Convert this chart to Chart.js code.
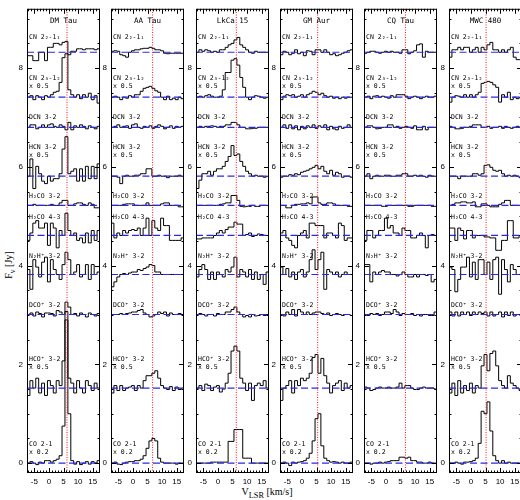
<!DOCTYPE html>
<html>
<head>
<meta charset="utf-8">
<script src="https://cdn.jsdelivr.net/npm/chart.js@4.4.0/dist/chart.umd.min.js"></script>
<style>
  body { margin: 0; background: #fff; width: 520px; height: 500px; overflow: hidden; position: relative; font-family: "Liberation Serif", serif; }
  canvas { position: absolute; top: 0; }
  #ylab { position: absolute; left: -16px; top: 258px; width: 52px; text-align: center; transform: rotate(-90deg); font-size: 10px; }
  #xlab { position: absolute; left: 217px; top: 486px; width: 100px; text-align: center; font-size: 10px; }
</style>
</head>
<body>
<div id="ylab">F<sub>ν</sub> [Jy]</div>
<div id="xlab">V<sub>LSR</sub> [km/s]</div>
<script>
// --- DATA ---
const SOURCES = ['DM Tau', 'AA Tau', 'LkCa 15', 'GM Aur', 'CQ Tau', 'MWC 480'];
const VLSR = [6.2, 6.75, 6.3, 5.4, 6.7, 5.2];
// channel left edges (km/s), 1 km/s channels
const EDGES = [-7.5, -6.5, -5.5, -4.5, -3.5, -2.5, -1.5, -0.5, 0.5, 1.5, 2.5, 3.5, 4.5, 5.5, 6.5, 7.5, 8.5, 9.5, 10.5, 11.5, 12.5, 13.5, 14.5, 15.5, 16.5];
const V_END = 17.5;
const LINE_NAMES = ['CN 2₂-1₁', 'CN 2₃-1₂', 'DCN 3-2', 'HCN 3-2', 'H₂CO 3-2', 'H₂CO 4-3', 'N₂H⁺ 3-2', 'DCO⁺ 3-2', 'HCO⁺ 3-2', 'CO 2-1'];
const SCALE_NOTES = ['', 'x 0.5', '', 'x 0.5', '', '', '', '', 'x 0.5', 'x 0.2'];
const BASES = [8.32, 7.41, 6.80, 5.81, 5.22, 4.61, 3.82, 3.01, 1.52, 0.0];

// flux above each baseline [Jy], rows in LINE_NAMES order
const DM_TAU = [
  [-0.07,-0.07,-0.17,-0.17,0.0,0.0,-0.17,0.1,0.1,0.18,0.18,0.15,0.2,0.22,-0.05,0.02,0.02,0.07,0.07,0.05,0.07,0.07,0.07,0.05,0.07],
  [0.0,0.03,-0.05,0.03,0.0,-0.05,0.03,0.0,0.05,0.1,0.12,0.3,0.8,0.88,0.15,0.05,0.0,0.05,-0.03,0.05,0.0,0.08,-0.05,0.03,-0.12],
  [0.0,0.05,0.05,-0.03,0.0,0.05,0.0,0.05,0.07,0.02,0.0,0.05,0.02,-0.05,0.1,-0.05,0.03,0.0,0.05,0.02,-0.03,0.03,0.0,-0.03,0.02],
  [0.0,0.35,-0.25,0.2,0.05,-0.1,-0.15,0.0,-0.1,-0.05,-0.05,0.05,0.55,0.8,0.05,0.1,0.15,-0.1,0.15,-0.1,0.2,-0.05,0.2,-0.05,0.25],
  [0.0,0.0,0.02,0.0,0.0,0.0,0.0,0.0,0.02,0.0,0.0,0.05,0.1,0.1,0.0,0.0,0.03,0.05,0.05,0.02,0.0,0.05,0.02,-0.05,-0.05],
  [-0.1,0.05,0.25,0.3,0.15,0.15,0.25,-0.2,0.25,0.15,-0.25,0.1,0.0,0.45,0.1,0.0,0.05,-0.1,-0.05,-0.15,0.05,-0.15,0.1,-0.1,0.1],
  [0.1,-0.3,0.3,0.15,-0.05,0.25,0.35,-0.15,0.3,0.1,0.0,-0.1,0.2,0.45,0.3,0.0,0.05,0.2,-0.05,0.0,0.2,-0.1,0.2,0.0,0.05],
  [0.0,0.03,-0.03,0.05,0.02,-0.05,0.03,0.03,0.02,-0.03,0.08,0.05,0.0,0.25,0.15,0.0,0.02,-0.03,0.03,0.0,-0.05,0.03,0.0,-0.03,0.02],
  [-0.15,0.15,0.0,0.2,-0.1,0.1,-0.15,0.15,0.05,-0.1,0.15,0.05,0.55,1.55,0.2,0.1,-0.1,0.15,0.0,-0.1,0.15,0.05,-0.05,0.1,0.0],
  [0.0,0.03,0.0,-0.03,0.02,0.0,0.05,0.05,0.02,0.05,0.08,0.15,0.75,2.9,1.0,0.05,-0.02,0.03,-0.03,0.0,0.03,-0.02,0.03,0.0,0.05]
];
const AA_TAU = [
  [0.02,0.03,0.02,-0.05,-0.07,-0.1,0.0,0.03,0.05,0.05,0.07,0.08,0.08,0.1,0.08,0.05,0.05,0.03,-0.02,-0.03,-0.02,-0.02,-0.02,-0.02,-0.02],
  [0.0,0.02,0.0,-0.05,0.0,-0.02,0.03,0.0,0.05,0.05,0.12,0.18,0.2,0.22,0.18,0.13,0.1,0.0,-0.05,0.02,-0.05,-0.02,-0.05,0.0,-0.03],
  [0.0,0.02,0.05,0.0,0.02,0.03,-0.02,0.05,0.07,0.0,-0.02,0.02,0.0,0.03,-0.02,0.02,0.05,0.02,-0.03,0.0,0.03,-0.02,0.02,0.0,0.02],
  [0.0,0.0,-0.02,-0.15,0.0,0.02,0.0,0.0,0.02,0.02,0.05,0.05,0.15,0.15,0.0,0.0,0.02,0.0,0.0,-0.03,0.0,0.0,0.0,0.02,0.0],
  [0.0,0.0,0.0,0.0,0.02,0.03,0.03,0.03,0.0,0.0,0.0,0.0,0.05,0.0,0.0,0.0,0.0,0.03,0.05,0.05,0.0,0.0,0.0,-0.03,-0.03],
  [0.25,-0.05,0.05,0.0,0.1,0.05,0.1,0.12,0.1,0.15,0.0,0.15,0.35,0.0,0.3,0.15,0.1,0.35,0.2,0.2,-0.1,-0.1,-0.1,-0.1,-0.05],
  [-0.25,-0.15,-0.05,0.0,0.02,0.0,0.03,0.05,0.05,0.1,0.08,0.12,0.15,0.2,0.18,0.05,0.05,0.0,0.0,0.0,0.0,0.0,0.0,0.0,0.0],
  [0.0,0.0,0.0,0.02,0.0,0.02,0.03,0.05,0.05,0.08,0.1,0.03,0.0,-0.05,-0.03,0.0,0.05,0.02,0.05,-0.03,0.03,0.0,0.0,0.02,0.0],
  [-0.1,0.05,-0.05,0.05,-0.05,0.0,0.02,0.05,-0.05,0.05,0.0,0.15,0.25,0.25,0.3,0.35,0.2,0.05,0.0,-0.03,0.03,-0.05,0.02,-0.03,0.0],
  [0.0,0.02,-0.02,-0.03,0.0,0.02,0.03,0.03,0.05,0.05,0.08,0.15,0.3,0.45,0.5,0.45,0.1,0.02,0.0,0.0,0.0,0.0,-0.02,0.0,0.0]
];
const LKCA_15 = [
  [0.0,0.05,0.02,0.05,0.03,0.0,0.02,0.0,0.05,0.05,0.1,0.15,0.18,0.25,0.3,0.15,0.1,0.05,0.0,-0.02,0.02,0.0,0.0,0.0,0.0],
  [0.0,0.02,0.0,0.03,0.05,0.02,0.0,0.0,0.02,0.15,0.5,0.5,0.75,0.78,0.65,0.4,0.2,0.0,-0.05,0.0,0.03,0.02,0.0,-0.02,0.0],
  [0.0,0.02,0.0,0.02,0.02,0.03,0.02,0.0,0.02,0.02,0.05,0.05,0.1,0.1,0.05,0.0,0.0,-0.03,-0.03,-0.02,-0.02,0.0,0.0,0.0,0.0],
  [-0.25,-0.08,0.05,0.05,0.1,0.02,0.1,0.15,0.15,0.2,0.3,0.4,0.62,0.42,0.45,0.3,0.2,0.1,0.05,0.0,0.02,0.0,0.0,-0.02,0.0],
  [0.0,0.0,0.0,0.0,0.0,0.0,0.0,0.0,0.02,0.03,0.05,0.05,0.2,0.2,0.1,-0.02,-0.03,-0.02,-0.02,0.0,-0.02,-0.02,0.0,0.0,0.0],
  [-0.07,-0.07,-0.05,-0.05,-0.05,-0.05,0.0,0.05,0.1,0.05,0.12,0.17,0.17,0.27,0.23,0.23,0.0,0.02,0.05,-0.02,0.0,0.03,0.02,0.0,0.0],
  [-0.05,0.1,0.2,0.1,-0.1,0.05,-0.1,0.05,0.0,-0.05,0.1,0.05,0.15,0.35,-0.05,0.1,0.05,-0.05,0.1,-0.1,0.05,-0.1,0.0,-0.2,0.05],
  [0.0,0.02,0.0,-0.03,0.0,0.0,-0.03,0.02,0.0,0.0,0.05,0.05,0.1,0.15,0.05,0.0,-0.05,-0.02,-0.05,0.0,-0.03,-0.02,0.0,-0.02,0.0],
  [0.0,0.05,-0.05,0.08,0.05,-0.05,0.02,0.05,-0.08,-0.02,0.1,0.3,0.75,0.85,0.75,0.2,0.1,-0.05,0.1,-0.25,0.05,0.1,0.05,0.15,0.0],
  [0.0,0.0,0.0,0.0,0.0,0.02,0.02,0.02,0.02,0.02,0.02,0.44,0.44,0.68,0.68,0.68,0.1,0.1,0.1,0.0,0.0,0.0,0.0,0.0,0.0]
];
const GM_AUR = [
  [-0.05,0.02,0.0,-0.05,-0.02,0.05,-0.03,0.0,-0.07,0.03,0.02,-0.05,0.05,0.05,0.0,0.05,0.0,-0.05,-0.03,-0.07,-0.05,-0.02,0.0,0.03,0.05],
  [-0.05,0.02,0.05,0.03,0.05,0.0,0.02,0.05,0.0,0.05,0.08,0.12,0.1,0.05,0.08,0.03,0.0,0.02,-0.02,0.0,-0.03,0.0,-0.02,0.0,0.0],
  [0.0,0.05,-0.02,0.05,-0.03,0.03,-0.05,0.02,-0.03,0.03,0.0,0.05,-0.02,0.03,0.0,0.05,-0.05,0.02,-0.03,-0.05,0.02,-0.02,0.0,0.05,0.0],
  [-0.02,0.0,0.0,0.03,0.02,0.05,0.03,0.08,0.1,0.12,0.15,0.18,0.22,0.15,0.2,0.1,0.05,0.12,0.02,0.08,0.05,-0.02,0.0,0.0,-0.02],
  [0.0,0.0,-0.05,-0.05,0.0,0.02,0.02,0.03,0.03,0.05,0.03,0.17,0.17,0.05,0.02,0.02,0.05,0.05,0.03,0.0,0.0,0.0,0.0,-0.02,-0.02],
  [0.05,0.1,-0.05,-0.1,-0.2,-0.25,0.0,0.05,0.1,-0.05,0.25,0.25,0.2,0.2,0.2,-0.05,0.05,0.05,0.0,-0.05,0.25,0.2,-0.1,-0.05,-0.05],
  [0.15,0.0,0.12,-0.05,0.05,-0.1,0.05,0.1,-0.05,0.05,0.3,0.5,0.1,0.3,0.45,-0.3,0.1,0.05,0.0,0.05,-0.05,0.0,0.05,0.0,0.0],
  [0.0,-0.03,0.05,0.0,0.1,-0.03,0.1,0.05,0.0,0.05,0.0,0.03,0.05,0.05,0.02,0.0,0.03,-0.02,0.0,0.02,0.0,-0.02,0.0,0.0,-0.02],
  [-0.25,0.0,0.05,0.15,-0.1,0.15,0.05,0.2,0.15,0.2,0.3,0.62,0.68,0.3,0.6,0.25,0.1,-0.1,0.05,0.1,0.15,-0.05,0.1,0.0,0.05],
  [0.0,0.02,0.0,-0.05,0.02,0.0,0.02,0.03,0.05,0.1,0.2,0.45,0.9,1.0,0.35,0.1,0.05,0.02,0.03,0.02,0.0,0.02,0.0,0.0,0.02]
];
const CQ_TAU = [
  [-0.02,0.0,0.02,0.02,0.0,-0.02,0.0,0.02,0.0,0.02,0.0,0.0,-0.02,0.05,0.05,-0.03,0.0,0.03,0.15,0.17,-0.1,0.02,0.0,0.0,0.0],
  [0.0,0.02,-0.03,0.02,0.03,0.0,0.02,0.0,-0.02,0.03,0.0,0.05,0.05,0.05,0.02,-0.03,0.0,0.02,0.0,-0.03,0.0,0.02,0.0,0.0,0.02],
  [0.0,0.03,0.03,0.0,-0.03,-0.02,0.0,0.0,0.05,0.05,0.0,0.02,-0.02,0.0,0.02,0.0,-0.02,0.03,-0.05,-0.05,0.02,-0.05,0.0,0.0,0.0],
  [0.0,0.05,-0.05,0.0,0.02,0.0,0.0,0.02,0.02,0.0,0.0,0.02,0.02,0.05,0.05,0.0,0.0,0.02,0.0,0.02,0.0,-0.02,0.02,0.0,0.0],
  [0.0,0.0,0.0,0.0,0.0,0.0,-0.02,-0.02,0.0,0.0,0.0,0.0,0.0,0.0,0.0,-0.02,-0.02,0.0,0.0,0.0,0.0,0.0,0.0,-0.02,-0.02],
  [-0.1,0.1,0.1,-0.05,0.0,0.1,0.1,0.35,0.15,0.2,0.05,0.05,0.0,0.15,0.1,0.1,-0.05,-0.05,0.0,0.05,0.0,-0.25,0.0,0.02,0.0],
  [0.2,0.2,-0.15,0.05,0.0,0.05,0.08,0.05,0.05,0.0,0.0,-0.03,0.0,0.05,0.0,-0.05,-0.05,0.0,-0.05,0.0,0.0,-0.02,0.0,-0.15,-0.1],
  [0.0,-0.02,0.02,0.0,0.02,-0.02,0.0,0.05,0.05,0.02,0.1,0.05,-0.02,0.02,0.0,0.0,0.02,-0.02,0.0,-0.03,0.0,0.0,-0.02,-0.02,0.05],
  [0.02,0.0,-0.05,-0.03,0.0,0.02,0.0,0.0,0.02,0.0,0.0,0.02,0.1,0.0,0.05,0.05,0.0,-0.03,-0.03,0.0,0.02,0.0,0.0,0.0,-0.02],
  [0.0,0.0,-0.02,0.0,0.0,0.02,0.0,0.02,0.03,0.05,0.05,0.05,0.12,0.12,0.1,0.12,0.05,0.05,0.02,0.02,0.0,0.0,0.02,0.0,0.0]
];
const MWC_480 = [
  [-0.1,0.05,0.05,0.1,0.05,0.1,0.1,0.0,0.05,0.1,0.0,0.1,0.05,0.15,0.2,0.05,0.05,0.0,0.05,0.0,0.05,0.1,-0.1,-0.15,-0.15],
  [-0.1,0.0,0.03,0.02,0.0,0.05,0.0,0.05,0.0,0.05,0.1,0.28,0.3,0.32,0.3,0.25,0.2,-0.1,0.05,0.0,0.1,-0.05,0.0,-0.03,0.0],
  [0.02,0.0,-0.03,-0.03,-0.02,0.0,0.0,0.02,0.05,0.05,0.05,0.0,0.0,0.02,-0.02,0.0,0.0,0.02,-0.02,0.02,0.0,-0.02,0.0,0.02,0.0],
  [0.0,0.0,0.0,-0.05,0.0,0.0,0.0,0.0,0.05,0.05,0.02,0.05,0.22,0.23,0.18,0.12,0.1,0.12,0.05,0.0,0.02,0.0,0.02,0.0,-0.03],
  [0.0,0.02,0.05,0.05,0.07,0.07,0.05,0.05,0.07,-0.03,-0.03,0.03,0.03,0.0,-0.03,-0.03,-0.03,0.02,0.05,0.1,0.1,0.0,0.0,0.0,0.0],
  [0.15,0.15,-0.1,0.15,0.1,-0.07,0.1,0.1,-0.05,0.0,0.0,0.0,-0.03,-0.03,-0.05,-0.05,-0.3,-0.3,-0.1,-0.1,0.3,0.3,-0.05,-0.05,0.0],
  [0.15,0.1,-0.35,-0.1,0.15,0.15,0.35,-0.05,0.25,-0.1,0.3,0.3,0.0,0.25,-0.1,0.3,0.35,-0.4,0.3,0.1,-0.15,0.2,0.1,0.0,0.0],
  [0.05,-0.03,0.05,-0.03,0.05,0.0,0.05,-0.02,0.05,0.0,0.05,0.02,0.05,-0.03,0.05,-0.03,0.0,0.05,-0.05,0.05,-0.02,0.05,-0.03,0.0,0.0],
  [-0.1,0.1,-0.15,0.15,-0.1,0.05,-0.05,0.1,-0.1,0.05,0.0,0.45,0.68,0.35,0.7,0.75,0.45,0.15,0.05,0.0,0.25,0.1,0.05,0.0,-0.05],
  [0.0,0.0,0.02,0.0,-0.02,0.02,0.02,0.03,0.05,0.1,0.4,1.05,1.0,1.24,0.65,0.15,0.05,0.0,0.05,0.0,0.02,0.0,0.0,0.0,0.0]
];
const SPECTRA = [DM_TAU, AA_TAU, LKCA_15, GM_AUR, CQ_TAU, MWC_480];

// --- LAYOUT ---
const CANVAS_LEFT = [7, 91, 176, 260, 344, 429];
const CANVAS_W = 96, CANVAS_H = 500;
const Y_AXIS_W = 20, X_AXIS_H = 27, PAD_TOP = 7, PAD_RIGHT = 3;
const LABEL_DY = [0.30, 0.39, 0.20, 0.58, 0.18, 0.37, 0.36, 0.19, 0.58, 0.38];
const LABEL_FONT = '6.5px "DejaVu Sans Mono"';

const framePlugin = {
  id: 'frame',
  afterDraw(chart, args, opts) {
    const { ctx, chartArea: a, scales: { x, y } } = chart;
    ctx.save();
    ctx.strokeStyle = '#000';
    ctx.lineWidth = 1;
    ctx.strokeRect(a.left + 0.5, a.top + 0.5, a.right - a.left - 1, a.bottom - a.top - 1);
    ctx.beginPath();
    // x ticks, top and bottom, inward
    for (let v = -7; v <= 17; v++) {
      const px = Math.round(x.getPixelForValue(v)) + 0.5;
      const len = v % 5 === 0 ? 5 : 2.5;
      ctx.moveTo(px, a.bottom); ctx.lineTo(px, a.bottom - len);
      ctx.moveTo(px, a.top); ctx.lineTo(px, a.top + len);
    }
    // y ticks, left and right, inward
    for (let k = 0; k <= 18; k++) {
      const py = Math.round(y.getPixelForValue(k * 0.5)) + 0.5;
      const len = k % 4 === 0 ? 5 : 2.5;
      ctx.moveTo(a.left, py); ctx.lineTo(a.left + len, py);
      ctx.moveTo(a.right, py); ctx.lineTo(a.right - len, py);
    }
    ctx.stroke();

    // line labels
    ctx.fillStyle = '#000';
    ctx.font = LABEL_FONT;
    ctx.textBaseline = 'middle';
    ctx.textAlign = 'left';
    LINE_NAMES.forEach((name, j) => {
      const yy = y.getPixelForValue(BASES[j] + LABEL_DY[j]);
      ctx.fillText(name, a.left + 2, yy);
      if (SCALE_NOTES[j]) ctx.fillText(SCALE_NOTES[j], a.left + 2, yy + 8);
    });

    // source name
    ctx.textAlign = 'center';
    ctx.font = '7.5px "DejaVu Sans Mono"';
    ctx.fillText(opts.title, x.getPixelForValue(5), y.getPixelForValue(8.96));
    ctx.restore();
  }
};

function makePanel(i) {
  const canvas = document.createElement('canvas');
  canvas.width = CANVAS_W;
  canvas.height = CANVAS_H;
  canvas.style.left = CANVAS_LEFT[i] + 'px';
  document.body.appendChild(canvas);

  const datasets = [];
  // systemic velocity
  datasets.push({
    data: [{ x: VLSR[i], y: -0.2 }, { x: VLSR[i], y: 9.2 }],
    borderColor: 'rgb(255,20,20)', borderWidth: 1, borderDash: [1, 1.5], pointRadius: 0
  });
  // baselines
  BASES.forEach(b => {
    datasets.push({
      data: [{ x: -7.5, y: b }, { x: V_END, y: b }],
      borderColor: 'rgb(40,40,235)', borderWidth: 1.2, borderDash: [7, 3.5], pointRadius: 0
    });
  });
  // spectra
  SPECTRA[i].forEach((vals, j) => {
    const pts = EDGES.map((v, k) => ({ x: v, y: BASES[j] + vals[k] }));
    pts.push({ x: V_END, y: BASES[j] + vals[vals.length - 1] });
    datasets.push({
      data: pts, stepped: 'before', borderColor: '#000', borderWidth: 1, pointRadius: 0
    });
  });

  new Chart(canvas.getContext('2d'), {
    type: 'line',
    data: { datasets },
    options: {
      responsive: false,
      animation: false,
      events: [],
      layout: { padding: { top: PAD_TOP, right: PAD_RIGHT, left: 0, bottom: 0 } },
      plugins: { legend: { display: false }, tooltip: { enabled: false }, frame: { title: SOURCES[i] } },
      scales: {
        x: {
          type: 'linear', min: -7.5, max: 17.5,
          afterBuildTicks: s => { s.ticks = [-5, 0, 5, 10, 15].map(v => ({ value: v })); },
          afterFit: s => { s.height = X_AXIS_H; },
          grid: { display: false, drawTicks: false },
          border: { display: false },
          ticks: { color: '#000', font: { family: 'Liberation Sans', size: 8 }, padding: 4, maxRotation: 0 }
        },
        y: {
          type: 'linear', min: -0.2, max: 9.2,
          afterBuildTicks: s => { s.ticks = [0, 2, 4, 6, 8].map(v => ({ value: v })); },
          afterFit: s => { s.width = Y_AXIS_W; },
          grid: { display: false, drawTicks: false },
          border: { display: false },
          ticks: { color: '#000', font: { family: 'Liberation Sans', size: 8 }, padding: 4 }
        }
      }
    },
    plugins: [framePlugin]
  });
}

SOURCES.forEach((_, i) => makePanel(i));
</script>
</body>
</html>
